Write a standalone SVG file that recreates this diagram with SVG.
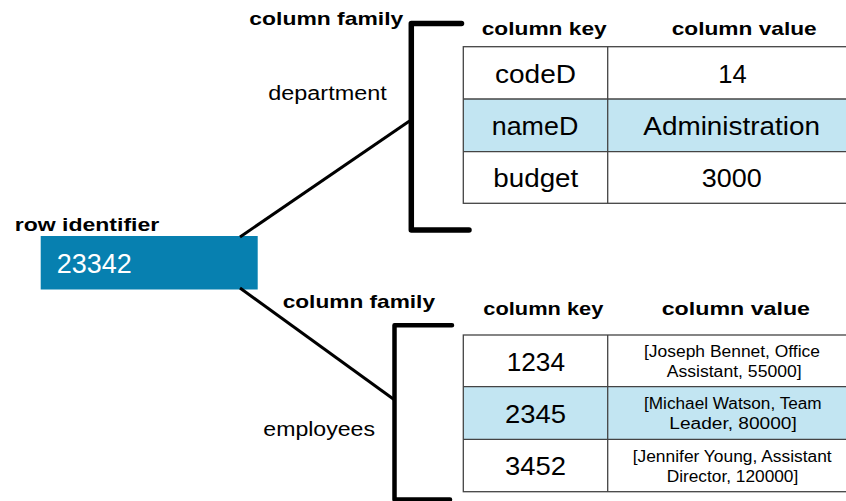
<svg xmlns="http://www.w3.org/2000/svg" width="846" height="501" viewBox="0 0 846 501">
  <style>
    text { font-family: "Liberation Sans", Arial, sans-serif; fill: #000; }
    .hdr { font-weight: bold; font-size: 19px; }
    .lbl { font-size: 20px; }
    .cell { font-size: 26px; }
    .small { font-size: 16px; }
    .grid { fill: none; stroke: #444; stroke-width: 1.3; }
    .hl { fill: #c2e5f2; }
    .bracket { fill: none; stroke: #000; stroke-linecap: round; stroke-linejoin: round; }
    .link { stroke: #000; stroke-width: 3; }
  </style>

  <!-- row key -->
  <g id="row">
    <text class="hdr" x="14.7" y="230.7" font-size="20" textLength="144.6" lengthAdjust="spacingAndGlyphs">row identifier</text>
    <rect x="40.7" y="236" width="217" height="53.5" fill="#0780b0"/>
    <text x="56.7" y="272.7" font-size="27" style="fill:#fff" textLength="75" lengthAdjust="spacingAndGlyphs">23342</text>
  </g>

  <!-- connectors from row key to each column family -->
  <g id="connectors">
    <line class="link" x1="240" y1="237" x2="409.5" y2="121"/>
    <line class="link" x1="240" y1="288" x2="394" y2="399.5"/>
  </g>

  <!-- column family: department -->
  <g id="cf-department">
    <text class="hdr" x="249.3" y="25" textLength="154" lengthAdjust="spacingAndGlyphs">column family</text>
    <text class="lbl" x="268.3" y="99.5" textLength="118.4" lengthAdjust="spacingAndGlyphs">department</text>
    <path class="bracket" stroke-width="5.5" d="M461.5 23.5 H411.3 V230 H469"/>
  </g>

  <g id="table-department">
    <text class="hdr" x="481.7" y="35" textLength="125" lengthAdjust="spacingAndGlyphs">column key</text>
    <text class="hdr" x="671.7" y="35" textLength="145" lengthAdjust="spacingAndGlyphs">column value</text>
    <rect class="hl" x="463.3" y="99" width="400" height="52.7"/>
    <rect class="grid" x="463.3" y="46.7" width="400" height="156.6"/>
    <line class="grid" x1="463.3" y1="99" x2="846" y2="99"/>
    <line class="grid" x1="463.3" y1="151.7" x2="846" y2="151.7"/>
    <line class="grid" x1="607.7" y1="46.7" x2="607.7" y2="203.3"/>
    <text class="cell" x="495" y="82.7" textLength="81" lengthAdjust="spacingAndGlyphs">codeD</text>
    <text class="cell" x="718.3" y="82.7" textLength="28.4" lengthAdjust="spacingAndGlyphs">14</text>
    <text class="cell" x="491.7" y="135" textLength="86.6" lengthAdjust="spacingAndGlyphs">nameD</text>
    <text class="cell" x="643.3" y="135" textLength="176.7" lengthAdjust="spacingAndGlyphs">Administration</text>
    <text class="cell" x="493.3" y="187.3" textLength="85" lengthAdjust="spacingAndGlyphs">budget</text>
    <text class="cell" x="701.7" y="187.3" textLength="60" lengthAdjust="spacingAndGlyphs">3000</text>
  </g>

  <!-- column family: employees -->
  <g id="cf-employees">
    <text class="hdr" x="282.7" y="308.3" textLength="152.3" lengthAdjust="spacingAndGlyphs">column family</text>
    <text class="lbl" x="263.3" y="436" textLength="111.7" lengthAdjust="spacingAndGlyphs">employees</text>
    <path class="bracket" stroke-width="4.5" d="M452 325.3 H394.5 V499.5 H450"/>
  </g>

  <g id="table-employees">
    <text class="hdr" x="483.3" y="315" textLength="120" lengthAdjust="spacingAndGlyphs">column key</text>
    <text class="hdr" x="661.7" y="315" textLength="148.3" lengthAdjust="spacingAndGlyphs">column value</text>
    <rect class="hl" x="463.3" y="386.7" width="400" height="52.6"/>
    <rect class="grid" x="463.3" y="335" width="400" height="156.7"/>
    <line class="grid" x1="463.3" y1="386.7" x2="846" y2="386.7"/>
    <line class="grid" x1="463.3" y1="439.3" x2="846" y2="439.3"/>
    <line class="grid" x1="607.7" y1="335" x2="607.7" y2="491.7"/>
    <text class="cell" x="506.7" y="370.7" textLength="58.3" lengthAdjust="spacingAndGlyphs">1234</text>
    <text class="cell" x="505" y="422.7" textLength="61" lengthAdjust="spacingAndGlyphs">2345</text>
    <text class="cell" x="505" y="475" textLength="61" lengthAdjust="spacingAndGlyphs">3452</text>
    <text class="small" x="644" y="357.3" textLength="176" lengthAdjust="spacingAndGlyphs">[Joseph Bennet, Office</text>
    <text class="small" x="666.7" y="377.3" textLength="135" lengthAdjust="spacingAndGlyphs">Assistant, 55000]</text>
    <text class="small" x="644" y="409.3" textLength="177.7" lengthAdjust="spacingAndGlyphs">[Michael Watson, Team</text>
    <text class="small" x="669.3" y="429.3" textLength="127.4" lengthAdjust="spacingAndGlyphs">Leader, 80000]</text>
    <text class="small" x="632.7" y="461.7" textLength="199" lengthAdjust="spacingAndGlyphs">[Jennifer Young, Assistant</text>
    <text class="small" x="666.7" y="481.7" textLength="131.6" lengthAdjust="spacingAndGlyphs">Director, 120000]</text>
  </g>
</svg>
